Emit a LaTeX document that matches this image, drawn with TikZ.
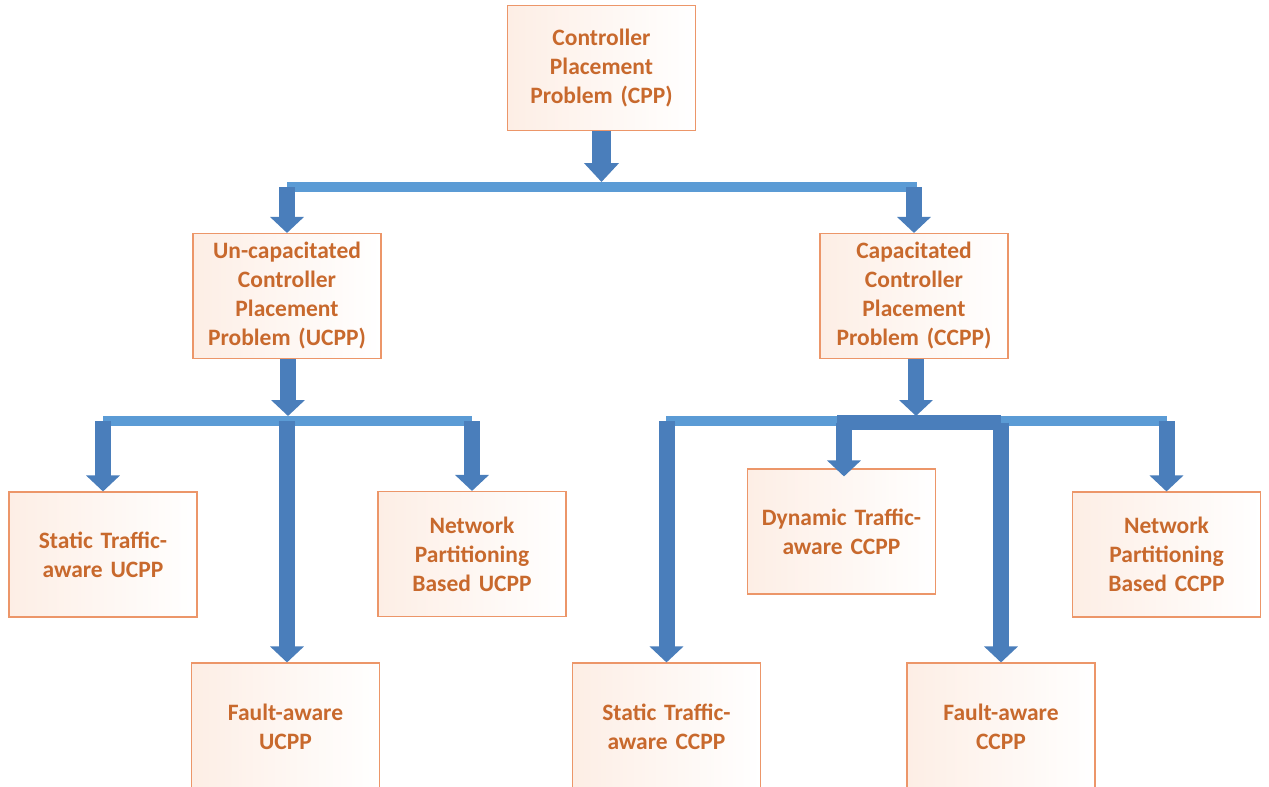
\documentclass[tikz,border=0pt]{standalone}
\usepackage{fontspec}
\setmainfont{Carlito}
\usetikzlibrary{arrows.meta}
\definecolor{txt}{RGB}{200,105,45}
\definecolor{bord}{RGB}{236,150,105}
\definecolor{fillA}{RGB}{253,238,229}
\definecolor{arr}{RGB}{74,126,187}
\definecolor{barc}{RGB}{91,155,213}
\begin{document}
\begin{tikzpicture}[x=1pt,y=-1pt,
 box/.style={draw=bord, line width=1.1pt, left color=fillA, right color=white,
   minimum width=188pt, minimum height=125pt, inner sep=0pt, text width=182pt,
   align=center, text=txt, font=\fontsize{23.5}{29}\selectfont\bfseries},
 blk/.style={draw=arr, line width=16pt, -{Triangle[length=16pt,width=33pt]}},
 bigblk/.style={draw=arr, line width=19pt, -{Triangle[length=19pt,width=34pt]}},
 barline/.style={draw=barc, line width=10pt},
 darkbar/.style={draw=arr, line width=15pt},
]
\useasboundingbox (0,0) rectangle (1269,787);

% boxes
\node[box] (cpp) at (601.5,68) {Controller\\Placement\\Problem (CPP)};
\node[box] (ucpp) at (287,296) {Un-capacitated\\Controller\\Placement\\Problem (UCPP)};
\node[box] (ccpp) at (914,296) {Capacitated\\Controller\\Placement\\Problem (CCPP)};
\node[box] (sucpp) at (103,554.5) {Static Traffic-\\aware UCPP};
\node[box] (nucpp) at (472,554) {Network\\Partitioning\\Based UCPP};
\node[box, minimum height=127pt] (fucpp) at (285.5,726.5) {Fault-aware\\UCPP};
\node[box] (dccpp) at (841.5,531.5) {Dynamic Traffic-\\aware CCPP};
\node[box] (nccpp) at (1166.5,554.5) {Network\\Partitioning\\Based CCPP};
\node[box, minimum height=127pt] (sccpp) at (666.5,726.5) {Static Traffic-\\aware CCPP};
\node[box, minimum height=127pt] (fccpp) at (1001,726.5) {Fault-aware\\CCPP};

% bar coordinates
\coordinate (b1l) at (287,187);
\coordinate (b1r) at (917,187);
\coordinate (b1top) at (601.5,182);
\coordinate (b2l) at (103,421);
\coordinate (b2r) at (472,421);
\coordinate (b2top) at (288,416);
\coordinate (b3l) at (666,421);
\coordinate (b3r) at (1167,421);
\coordinate (b3top) at (916,416);
\coordinate (dkl) at (837,422.5);
\coordinate (dkr) at (1001,422.5);

% bars
\draw[barline] (b1l) -- (b1r);
\draw[barline] (b2l) -- (b2r);
\draw[barline] (b3l) -- (b3r);
\draw[darkbar] (dkl) -- (dkr);

% arrows
\draw[bigblk] (cpp.south) -- (b1top);
\draw[blk] (ucpp.north |- b1l) -- (ucpp.north);
\draw[blk] (ccpp.north |- b1l) -- (ccpp.north);

\draw[blk] ([xshift=1pt]ucpp.south) -- (b2top);
\draw[blk] (sucpp.north |- b2l) -- (sucpp.north);
\draw[blk] ([xshift=1.5pt]fucpp.north |- b2l) -- ([xshift=1.5pt]fucpp.north);
\draw[blk] (nucpp.north |- b2l) -- (nucpp.north);

\draw[blk] ([xshift=2pt]ccpp.south) -- (b3top);
\draw[blk] (sccpp.north |- b3l) -- (sccpp.north);
\draw[blk] ([xshift=2.5pt]dccpp.north |- dkl) -- ([xshift=2.5pt,yshift=-8pt]dccpp.north);
\draw[blk] (fccpp.north |- dkr) -- (fccpp.north);
\draw[blk] (nccpp.north |- b3r) -- (nccpp.north);
\end{tikzpicture}
\end{document}
